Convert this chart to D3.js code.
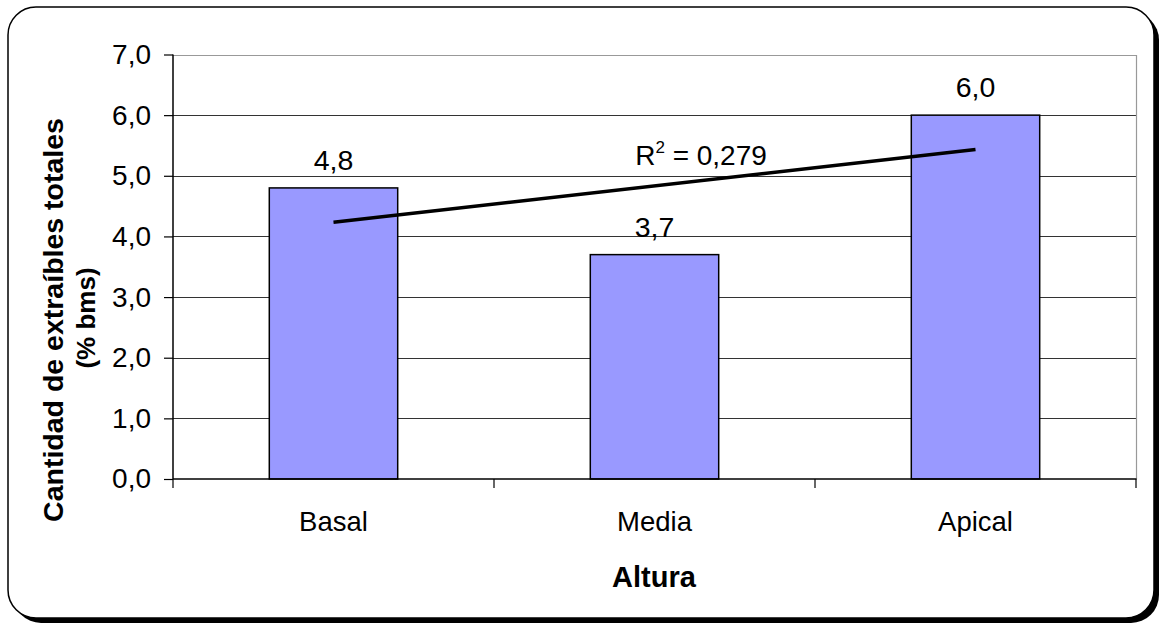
<!DOCTYPE html>
<html>
<head>
<meta charset="utf-8">
<script src="https://cdn.jsdelivr.net/npm/d3@7"></script>
<style>
  html, body { margin: 0; padding: 0; background: #fff; }
  svg { display: block; font-family: "Liberation Sans", Arial, sans-serif; }
</style>
</head>
<body>
<svg id="chart" width="1166" height="627"></svg>
<script>
// Extractives content by stem height
const categories = ["Basal", "Media", "Apical"];
const values = [4.8, 3.7, 6.0];
const valueLabels = ["4,8", "3,7", "6,0"];
const yTicks = [0, 1, 2, 3, 4, 5, 6, 7];
const r2Text = "0,279";

const W = 1166, H = 627;
const plot = { left: 173, right: 1136, top: 54.5, bottom: 479 };

const svg = d3.select("#chart");

// Frame with drop shadow
svg.append("rect")
  .attr("x", 13).attr("y", 12).attr("width", 1146).attr("height", 611)
  .attr("rx", 28).attr("ry", 28)
  .attr("fill", "#000");
svg.append("rect")
  .attr("x", 8).attr("y", 7).attr("width", 1146).attr("height", 611)
  .attr("rx", 28).attr("ry", 28)
  .attr("fill", "#fff").attr("stroke", "#000").attr("stroke-width", 1.5);

const x = d3.scaleBand().domain(categories)
  .range([plot.left, plot.right]).paddingInner(0.6).paddingOuter(0.3);
const xOuter = d3.scaleBand().domain(categories)
  .range([plot.left, plot.right]).padding(0);
const y = d3.scaleLinear().domain([0, 7]).range([plot.bottom, plot.top]);

// Gridlines
svg.append("g").selectAll("line")
  .data(yTicks.filter(d => d > 0 && d < 7))
  .join("line")
  .attr("x1", plot.left).attr("x2", plot.right)
  .attr("y1", d => Math.round(y(d)) + 0.5).attr("y2", d => Math.round(y(d)) + 0.5)
  .attr("stroke", "#333").attr("stroke-width", 1);

// Plot-area border (top and right)
svg.append("path")
  .attr("d", `M${plot.left},${Math.round(plot.top) + 0.5}H${plot.right + 0.5}V${plot.bottom}`)
  .attr("fill", "none").attr("stroke", "#999").attr("stroke-width", 1.2);

// Bars
svg.append("g").selectAll("rect")
  .data(values)
  .join("rect")
  .attr("x", (d, i) => x(categories[i]))
  .attr("y", d => y(d))
  .attr("width", x.bandwidth())
  .attr("height", d => y(0) - y(d))
  .attr("fill", "#9999FF")
  .attr("stroke", "#000").attr("stroke-width", 1.5);

// Linear trend line across the category positions 1..n
const xs = values.map((d, i) => i + 1);
const mx = d3.mean(xs), my = d3.mean(values);
const slope = d3.sum(xs, (xi, i) => (xi - mx) * (values[i] - my)) / d3.sum(xs, xi => (xi - mx) ** 2);
const intercept = my - slope * mx;
const cx = i => xOuter(categories[i]) + xOuter.bandwidth() / 2;
svg.append("line")
  .attr("x1", cx(0)).attr("y1", y(intercept + slope * 1))
  .attr("x2", cx(values.length - 1)).attr("y2", y(intercept + slope * values.length))
  .attr("stroke", "#000").attr("stroke-width", 3.5).attr("stroke-linecap", "butt");

// Y axis
const yAxis = svg.append("g")
  .attr("transform", `translate(${plot.left},0)`)
  .call(d3.axisLeft(y).tickValues(yTicks).tickSize(9).tickPadding(13)
    .tickFormat(d => d3.format(".1f")(d).replace(".", ",")));
yAxis.select(".domain").attr("stroke", "#000").attr("stroke-width", 1.5).attr("d", `M0,${plot.top}V${plot.bottom}`);
yAxis.selectAll(".tick line").attr("stroke", "#000").attr("stroke-width", 1.2);
yAxis.selectAll(".tick text").attr("font-size", 28).attr("fill", "#000")
  .attr("font-family", "Liberation Sans, Arial, sans-serif");

// X axis: ticks at category boundaries
const xAxisG = svg.append("g").attr("transform", `translate(0,${plot.bottom})`);
xAxisG.append("line").attr("x1", plot.left).attr("x2", plot.right + 0.5)
  .attr("stroke", "#000").attr("stroke-width", 1.5);
const bounds = categories.map(c => xOuter(c)).concat([plot.right]);
xAxisG.selectAll("line.tk").data(bounds).join("line").attr("class", "tk")
  .attr("x1", d => d).attr("x2", d => d).attr("y1", 0).attr("y2", 9)
  .attr("stroke", "#000").attr("stroke-width", 1.2);
xAxisG.selectAll("text").data(categories).join("text")
  .attr("x", d => xOuter(d) + xOuter.bandwidth() / 2)
  .attr("y", 52)
  .attr("text-anchor", "middle").attr("font-size", 27.5).attr("fill", "#000")
  .text(d => d);

// Value labels
svg.append("g").selectAll("text")
  .data(values)
  .join("text")
  .attr("x", (d, i) => cx(i))
  .attr("y", d => y(d) - 18)
  .attr("text-anchor", "middle").attr("font-size", 28.5).attr("fill", "#000")
  .text((d, i) => valueLabels[i]);

// R² annotation
const r2 = svg.append("text")
  .attr("x", 701).attr("y", 165)
  .attr("text-anchor", "middle").attr("font-size", 28).attr("fill", "#000");
r2.append("tspan").text("R");
r2.append("tspan").attr("font-size", 17).attr("dy", -12).text("2");
r2.append("tspan").attr("dy", 12).text(" = " + r2Text);

// Axis titles
svg.append("text")
  .attr("x", 654).attr("y", 587)
  .attr("text-anchor", "middle").attr("font-size", 29).attr("font-weight", "bold")
  .text("Altura");

const yTitle = svg.append("text")
  .attr("transform", "rotate(-90)")
  .attr("text-anchor", "middle").attr("font-size", 28.5).attr("font-weight", "bold");
yTitle.append("tspan").attr("x", -320).attr("y", 63).text("Cantidad de extraíbles totales");
yTitle.append("tspan").attr("x", -318).attr("y", 95).attr("font-size", 26).text("(% bms)");
</script>
</body>
</html>
